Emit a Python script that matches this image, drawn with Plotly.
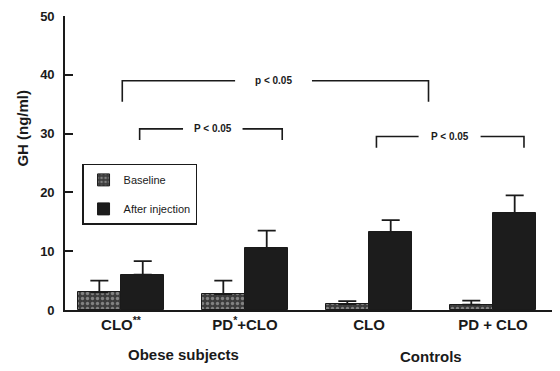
import plotly.graph_objects as go

groups = ["CLO<sup>**</sup>", "PD<sup>*</sup>+CLO", "CLO", "PD + CLO"]
baseline = [3.0, 2.7, 1.0, 0.9]
baseline_err = [2.0, 2.3, 0.5, 0.7]
after = [6.0, 10.5, 13.3, 16.5]
after_err = [2.3, 3.0, 2.0, 3.0]
y_ticks = [0, 10, 20, 30, 40, 50]

pos = list(range(len(groups)))
W = 0.35

fig = go.Figure()
fig.add_trace(go.Bar(
    x=[p - W / 2 for p in pos], y=baseline, width=W, name="Baseline",
    marker=dict(color="#3c3c3c", line=dict(color="#1a1a1a", width=1),
                pattern=dict(shape=".", fgcolor="#c8c8c8", size=5, solidity=0.35)),
    error_y=dict(type="data", array=baseline_err, arrayminus=[0] * 4, symmetric=False,
                 color="#1a1a1a", thickness=1.8, width=9),
    legendgroup="a"))
fig.add_trace(go.Bar(
    x=[p + W / 2 for p in pos], y=after, width=W, name="After injection",
    marker=dict(color="#1c1c1c", line=dict(color="#1a1a1a", width=1)),
    error_y=dict(type="data", array=after_err, arrayminus=[0] * 4, symmetric=False,
                 color="#1a1a1a", thickness=1.8, width=9),
    legendgroup="b"))

# significance brackets: (left, right, top, left-leg bottom, right-leg bottom, text, text x, gap half-width)
brackets = [
    (0.01, 2.48, 39.0, 35.4, 35.4, "p < 0.05", 1.23, 0.31),
    (0.15, 1.30, 30.8, 28.9, 28.9, "P < 0.05", 0.74, 0.24),
    (2.06, 3.25, 29.5, 27.6, 27.6, "P < 0.05", 2.65, 0.25),
]
line = dict(color="#1a1a1a", width=1.6)
for l, r, top, lb, rb, txt, tx, gap in brackets:
    fig.add_shape(type="path", xref="x", yref="y",
                  path=f"M {l} {lb} L {l} {top} L {tx - gap} {top}", line=line)
    fig.add_shape(type="path", xref="x", yref="y",
                  path=f"M {tx + gap} {top} L {r} {top} L {r} {rb}", line=line)
    fig.add_annotation(x=tx, y=top, xref="x", yref="y", text=txt, showarrow=False,
                       font=dict(family="Liberation Sans", size=10, color="#1a1a1a", weight="bold"))

# group labels
fig.add_annotation(x=0.5, y=0, xref="x", yref="paper", yshift=-55, text="Obese subjects",
                   showarrow=False, font=dict(family="Liberation Sans", size=15, color="#1a1a1a", weight="bold"))
fig.add_annotation(x=2.5, y=0, xref="x", yref="paper", yshift=-57, text="Controls",
                   showarrow=False, font=dict(family="Liberation Sans", size=15, color="#1a1a1a", weight="bold"))
# y title
fig.add_annotation(x=-0.108, y=31, xref="paper", yref="y", text="GH (ng/ml)", textangle=-90,
                   showarrow=False, font=dict(family="Liberation Sans", size=15, color="#1a1a1a", weight="bold"))

fig.update_layout(
    width=560, height=371,
    margin=dict(l=65, r=8, t=16, b=61),
    paper_bgcolor="white", plot_bgcolor="white",
    barmode="overlay", bargap=0,
    showlegend=True,
    legend=dict(x=0.035, y=0.497, xanchor="left", yanchor="top",
                bordercolor="#1a1a1a", borderwidth=1.5, bgcolor="white",
                font=dict(family="Liberation Sans", size=11, color="#1a1a1a"),
                traceorder="grouped", tracegroupgap=10, itemwidth=30),
    xaxis=dict(range=[-0.452, 3.476], tickvals=pos, ticktext=groups, ticks="",
               showline=True, linecolor="#1a1a1a", linewidth=1.6, showgrid=False, zeroline=False,
               tickfont=dict(family="Liberation Sans", size=15, color="#1a1a1a", weight="bold")),
    yaxis=dict(range=[0, 50], tickvals=y_ticks, ticks="inside", ticklen=8, tickwidth=1.5,
               tickcolor="#1a1a1a", showline=True, linecolor="#1a1a1a", linewidth=1.6,
               showgrid=False, zeroline=False, ticklabelstandoff=6,
               tickfont=dict(family="Liberation Sans", size=13, color="#1a1a1a", weight="bold")),
)

fig.write_html("out.html", config={"displayModeBar": False},
               post_script="document.body.style.margin='0';")
